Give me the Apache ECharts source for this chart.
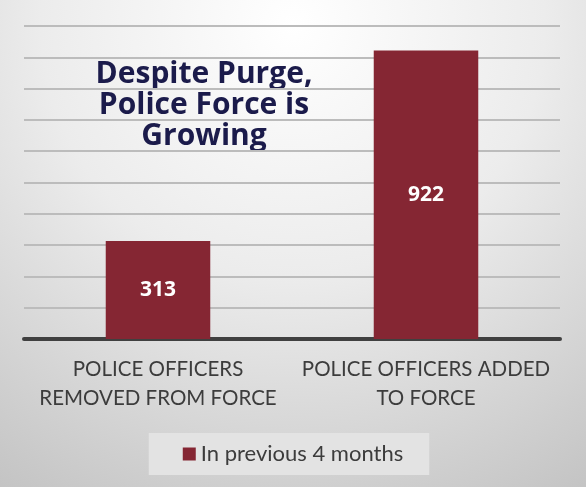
<!DOCTYPE html>
<html>
<head>
<meta charset="utf-8">
<script src="https://cdn.jsdelivr.net/npm/echarts@6/dist/echarts.min.js"></script>
<style>html,body{margin:0;padding:0;}#c{width:586px;height:487px;}</style>
</head>
<body>
<div id="c"></div>
<script>
const categories = ['POLICE OFFICERS\nREMOVED FROM FORCE', 'POLICE OFFICERS ADDED\nTO FORCE'];
const seriesName = 'In previous 4 months';
const values = [313, 922];
const titleLines = ['Despite Purge,', 'Police Force is', 'Growing'];

const chart = echarts.init(document.getElementById('c'));
chart.setOption({
  backgroundColor: {
    type: 'radial', x: 0.5, y: 0.05, r: 1.15,
    colorStops: [{offset: 0, color: '#ffffff'}, {offset: 0.45, color: '#ececec'}, {offset: 1, color: '#c2c2c2'}]
  },
  animation: false,
  graphic: [{
    type: 'text', x: 204, y: 59,
    style: {
      text: titleLines.join('\n'), textAlign: 'center', align: 'center',
      font: 'bold 30px "Open Sans"', fill: '#1b1b4b', lineHeight: 31
    }
  }],
  grid: {left: 24, right: 26, top: 26, bottom: 148, containLabel: false},
  xAxis: {
    type: 'category', data: categories,
    axisLine: {lineStyle: {color: '#404040', width: 4}},
    axisTick: {show: false},
    axisLabel: {fontFamily: 'Lato', fontSize: 20.5, color: '#3c3c3c', lineHeight: 29, margin: 16, interval: 0}
  },
  yAxis: {
    type: 'value', min: 0, max: 1000, interval: 100,
    axisLabel: {show: false}, axisLine: {show: false}, axisTick: {show: false},
    splitLine: {lineStyle: {color: '#bcbcbc', width: 2}}
  },
  legend: {
    data: [seriesName], left: 'center', bottom: 12,
    backgroundColor: '#e3e3e3', padding: [10, 26, 10, 34],
    itemWidth: 13, itemHeight: 13, itemGap: 5,
    textStyle: {fontFamily: 'Lato', fontSize: 22, color: '#3c3c3c', padding: [0, 0, 0, 0]},
    icon: 'rect'
  },
  series: [{
    name: seriesName, type: 'bar', data: values, barWidth: '39%',
    itemStyle: {color: '#852633'},
    label: {show: true, position: 'inside', color: '#ffffff', fontFamily: 'Open Sans', fontWeight: 'bold', fontSize: 21}
  }]
});
</script>
</body>
</html>
